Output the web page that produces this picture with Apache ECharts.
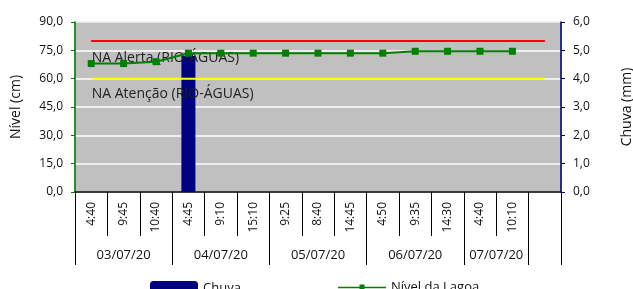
<!DOCTYPE html>
<html lang="pt">
<head>
    <meta charset="UTF-8">
    <title>Nível da Lagoa x Chuva</title>
    <script src="https://cdn.jsdelivr.net/npm/echarts@6.0.0/dist/echarts.min.js"></script>
    <style>
        html, body { margin: 0; padding: 0; background: #fff; }
    </style>
</head>
<body>
    <div id="main" style="width: 633px;height:289px;"></div>

    <script>
        // horários das leituras (a última categoria fica vazia, como no original)
        var horas = ['4:40', '9:45', '10:40', '4:45', '9:10', '15:10', '9:25', '8:40', '14:45', '4:50', '9:35', '14:30', '4:40', '10:10', ''];
        // datas e quantas leituras cada uma agrupa
        var datas = ['03/07/20', '04/07/20', '05/07/20', '06/07/20', '07/07/20'];
        var leiturasPorData = [3, 3, 3, 3, 2];

        var chuva = [0, 0, 0, 4.8, 0, 0, 0, 0, 0, 0, 0, 0, 0, 0, 0];
        var nivelLagoa = [68, 68, 69, 73.5, 73.5, 73.5, 73.5, 73.5, 73.5, 73.5, 74.5, 74.5, 74.5, 74.5, null];
        var naAlerta = [80, 80, 80, 80, 80, 80, 80, 80, 80, 80, 80, 80, 80, 80, 80];
        var naAtencao = [60, 60, 60, 60, 60, 60, 60, 60, 60, 60, 60, 60, 60, 60, 60];

        // limites e centros dos grupos de datas no eixo de baixo
        var limites = [0];
        var centros = [];
        leiturasPorData.forEach(function (n) {
            var ini = limites[limites.length - 1];
            centros.push(ini + n / 2);
            limites.push(ini + n);
        });
        limites.push(horas.length);

        var fonte = 'Open Sans';
        var virgula = function (v) { return v.toFixed(1).replace('.', ','); };

        function rotulo(texto, dy) {
            return {
                show: true,
                formatter: texto,
                position: [1, dy],
                align: 'left',
                verticalAlign: 'middle',
                fontFamily: fonte,
                fontSize: 14,
                color: '#222'
            };
        }

        var legendaTexto = { fontFamily: fonte, fontSize: 13, color: '#111' };

        var myChart = echarts.init(document.getElementById('main'));

        var option = {
            animation: false,
            textStyle: { fontFamily: fonte },
            grid: {
                left: 75, right: 72, top: 22, bottom: 97,
                outerBoundsMode: 'none',
                containLabel: false,
                show: true,
                backgroundColor: '#c0c0c0',
                borderColor: '#808080',
                borderWidth: 1
            },
            legend: [
                {
                    data: ['Chuva'],
                    left: 150, top: 281, padding: 0,
                    itemWidth: 48, itemHeight: 14,
                    textStyle: legendaTexto
                },
                {
                    data: ['Nível da Lagoa'],
                    left: 338, top: 281, padding: 0,
                    itemWidth: 48, itemHeight: 14,
                    textStyle: legendaTexto,
                    itemStyle: { borderWidth: 0 },
                    icon: 'path://M0,6.2H48V7.8H0Z M21.5,4H26.5V10H21.5Z'
                }
            ],
            xAxis: [
                {
                    type: 'category',
                    data: horas,
                    boundaryGap: true,
                    axisLine: { lineStyle: { color: '#000', width: 1.5 } },
                    axisTick: { show: true, length: 44, interval: 0, lineStyle: { color: '#000' } },
                    axisLabel: { interval: 0, rotate: 90, margin: 10, fontSize: 12, color: '#111', fontFamily: fonte }
                },
                {
                    type: 'value',
                    min: 0,
                    max: horas.length,
                    position: 'bottom',
                    splitLine: { show: false },
                    axisLine: { show: false },
                    axisTick: { show: true, length: 73, customValues: limites, lineStyle: { color: '#000' } },
                    axisLabel: {
                        customValues: centros,
                        margin: 57,
                        fontSize: 13,
                        color: '#111',
                        fontFamily: fonte,
                        formatter: function (v) {
                            var i = centros.indexOf(v);
                            return i >= 0 ? datas[i] : '';
                        }
                    }
                }
            ],
            yAxis: [
                {
                    type: 'value',
                    name: 'Nível (cm)',
                    nameLocation: 'middle',
                    nameGap: 52,
                    nameRotate: 90,
                    nameTextStyle: { fontSize: 14, color: '#111', fontFamily: fonte },
                    min: 0, max: 90, interval: 15,
                    axisLine: { show: true, lineStyle: { color: '#008000', width: 1.5 } },
                    axisTick: { show: true, length: 4, lineStyle: { color: '#008000' } },
                    axisLabel: { formatter: virgula, margin: 12, fontSize: 12, color: '#111', fontFamily: fonte },
                    splitLine: { show: true, lineStyle: { color: '#ffffff', width: 1.5 } }
                },
                {
                    type: 'value',
                    name: 'Chuva (mm)',
                    nameLocation: 'middle',
                    nameGap: 59,
                    nameRotate: 90,
                    nameTextStyle: { fontSize: 14, color: '#111', fontFamily: fonte },
                    min: 0, max: 6, interval: 1,
                    position: 'right',
                    axisLine: { show: true, lineStyle: { color: '#000080', width: 1.5 } },
                    axisTick: { show: true, length: 4, lineStyle: { color: '#000080' } },
                    axisLabel: { formatter: virgula, margin: 12, fontSize: 12, color: '#111', fontFamily: fonte },
                    splitLine: { show: false }
                }
            ],
            series: [
                {
                    name: 'Chuva',
                    type: 'bar',
                    xAxisIndex: 0,
                    yAxisIndex: 1,
                    data: chuva,
                    barWidth: 14,
                    itemStyle: { color: '#000080' }
                },
                {
                    name: 'NA Alerta',
                    type: 'line',
                    yAxisIndex: 0,
                    data: naAlerta.map(function (v, i) {
                        return i === 0 ? { value: v, label: rotulo('NA Alerta (RIO-ÁGUAS)', 18) } : v;
                    }),
                    symbol: 'circle',
                    symbolSize: 1,
                    itemStyle: { color: '#ff0000' },
                    lineStyle: { color: '#ff0000', width: 2 },
                    z: 3
                },
                {
                    name: 'NA Atenção',
                    type: 'line',
                    yAxisIndex: 0,
                    data: naAtencao.map(function (v, i) {
                        return i === 0 ? { value: v, label: rotulo('NA Atenção (RIO-ÁGUAS)', 16) } : v;
                    }),
                    symbol: 'circle',
                    symbolSize: 1,
                    itemStyle: { color: '#ffff00' },
                    lineStyle: { color: '#ffff00', width: 2 },
                    z: 3
                },
                {
                    name: 'Nível da Lagoa',
                    type: 'line',
                    yAxisIndex: 0,
                    data: nivelLagoa,
                    symbol: 'rect',
                    symbolSize: 7,
                    itemStyle: { color: '#008000' },
                    lineStyle: { color: '#008000', width: 2 },
                    z: 4
                }
            ]
        };

        myChart.setOption(option);
    </script>
</body>
</html>
